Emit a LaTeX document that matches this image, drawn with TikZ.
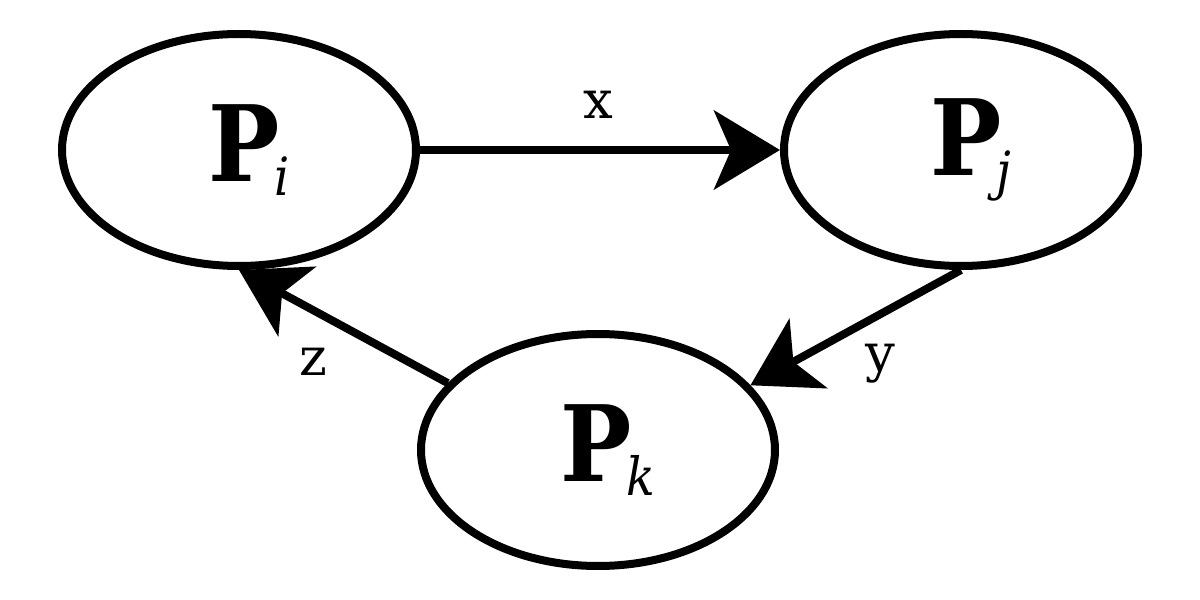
\documentclass[tikz,border=0pt]{standalone}
\usepackage{fontspec}
\setmainfont{DejaVu Serif}
\newfontfamily\dar{DejaVu Serif Condensed}
\usetikzlibrary{arrows.meta,shapes.geometric}
\newcommand{\proc}[1]{\hspace{0.2cm}\fontsize{30}{36}\selectfont{\dar\bfseries P}\kern-1.5pt\raisebox{-4.2pt}{\fontsize{15}{18}\selectfont\dar\itshape #1}}

\begin{document}
\begin{tikzpicture}[
  surec/.style={draw,ellipse,line width=0.08cm,minimum width=3.54cm,minimum height=2.32cm,inner sep=0pt},
  ok/.style={line width=0.08cm,-{Stealth[length=0.66cm,width=0.79cm,inset=0.17cm]}},
  etiket/.style={font=\fontsize{15}{18}\selectfont}]
\useasboundingbox (0,0) rectangle (12,6);
% surecler
\node[surec] (pi) at (2.39,4.5) {\proc{i}};
\node[surec] (pj) at (9.61,4.5) {\proc{j}};
\node[surec] (pk) at (5.98,1.5) {\proc{k}};
% oklar
\draw[ok] (pi) -- (pj);
\draw[ok] (pj.south) -- (pk.23);
\draw[ok] (pk.156) -- (pi.south);
\node[etiket] (lx) at (5.98,4.95) {x};
\node[etiket] (ly) at (8.80,2.36) {y};
\node[etiket] (lz) at (3.13,2.38) {z};
\end{tikzpicture}
\end{document}
